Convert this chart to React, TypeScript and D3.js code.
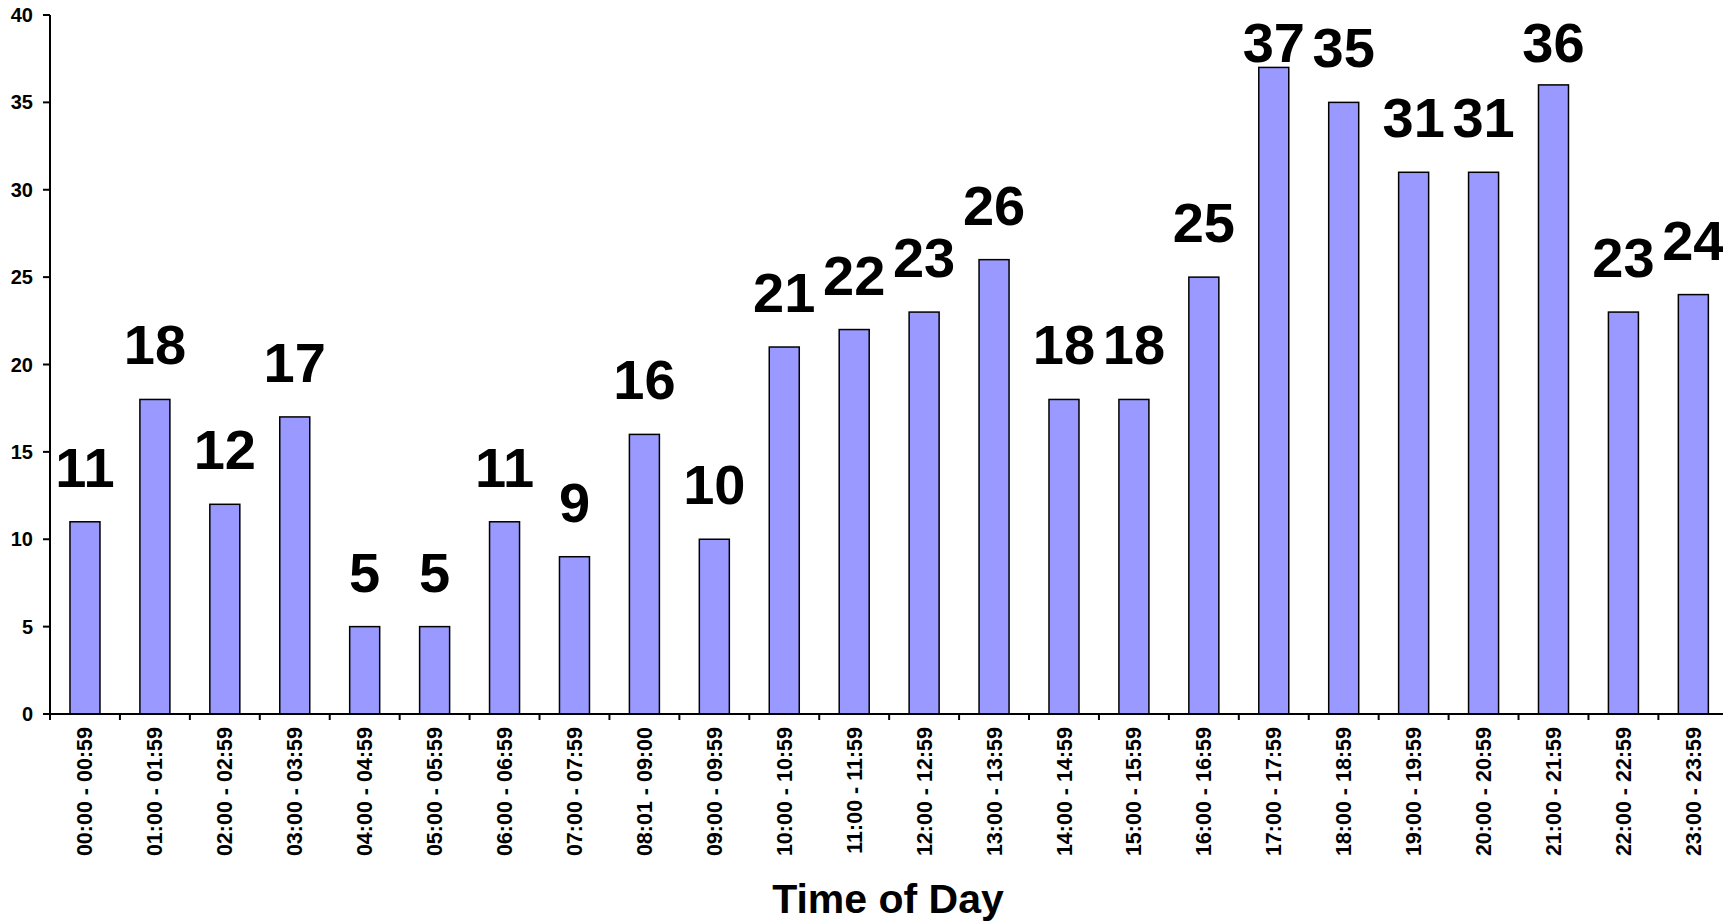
import React from 'react';
import * as d3 from 'd3';

const categories = [
  '00:00 - 00:59', '01:00 - 01:59', '02:00 - 02:59', '03:00 - 03:59',
  '04:00 - 04:59', '05:00 - 05:59', '06:00 - 06:59', '07:00 - 07:59',
  '08:01 - 09:00', '09:00 - 09:59', '10:00 - 10:59', '11:00 - 11:59',
  '12:00 - 12:59', '13:00 - 13:59', '14:00 - 14:59', '15:00 - 15:59',
  '16:00 - 16:59', '17:00 - 17:59', '18:00 - 18:59', '19:00 - 19:59',
  '20:00 - 20:59', '21:00 - 21:59', '22:00 - 22:59', '23:00 - 23:59',
];
const counts = [11, 18, 12, 17, 5, 5, 11, 9, 16, 10, 21, 22, 23, 26, 18, 18, 25, 37, 35, 31, 31, 36, 23, 24];
const yTicks = [0, 5, 10, 15, 20, 25, 30, 35, 40];
const xTitle = 'Time of Day';

const W = 1723, H = 923;
const font = "'Liberation Sans', Arial, Helvetica, sans-serif";

export default function App() {
  const left = 50, bandW = 69.93;
  const x = d3.scaleBand<string>().domain(categories).range([left, left + bandW * categories.length]).padding(0);
  const y = d3.scaleLinear().domain([0, 40]).range([714, 15]);
  const barW = 30;
  const bw = x.bandwidth();
  const edges = d3.range(categories.length + 1).map(i => left + i * bw);

  return (
    <div style={{ position: 'absolute', left: 0, top: 0 }}>
      <svg width={W} height={H} style={{ display: 'block', background: '#fff' }} fontFamily={font}>
        {/* bars */}
        {categories.map((c, i) => (
          <rect key={c} x={x(c)! + bw / 2 - barW / 2} y={y(counts[i])} width={barW} height={y(0) - y(counts[i])}
            fill="#9999ff" stroke="#000" strokeWidth={1.5} />
        ))}
        {/* value labels */}
        {categories.map((c, i) => (
          <text key={'l' + c} x={x(c)! + bw / 2} y={Math.max(y(counts[i]) - 35, 62)} textAnchor="middle"
            fontSize={56} fontWeight="bold" fill="#000">{counts[i]}</text>
        ))}
        {/* y axis */}
        <line x1={left} x2={left} y1={y(40)} y2={y(0)} stroke="#000" strokeWidth={2} />
        {yTicks.map(t => (
          <g key={t}>
            <line x1={left - 7} x2={left} y1={y(t)} y2={y(t)} stroke="#000" strokeWidth={2} />
            <text x={33} y={y(t)} dy="0.35em" textAnchor="end" fontSize={20} fontWeight="bold">{t}</text>
          </g>
        ))}
        {/* x axis */}
        <line x1={left - 7} x2={edges[edges.length - 1]} y1={y(0)} y2={y(0)} stroke="#000" strokeWidth={2} />
        {edges.map((e, i) => (
          <line key={'t' + i} x1={e} x2={e} y1={y(0)} y2={y(0) + 6} stroke="#000" strokeWidth={2} />
        ))}
        {categories.map(c => (
          <text key={'x' + c} transform={`translate(${x(c)! + bw / 2},727) rotate(-90)`} dy="0.35em"
            textAnchor="end" fontSize={21.5} fontWeight="bold">{c}</text>
        ))}
        <text x={888} y={913} textAnchor="middle" fontSize={41} fontWeight="bold">{xTitle}</text>
      </svg>
    </div>
  );
}
